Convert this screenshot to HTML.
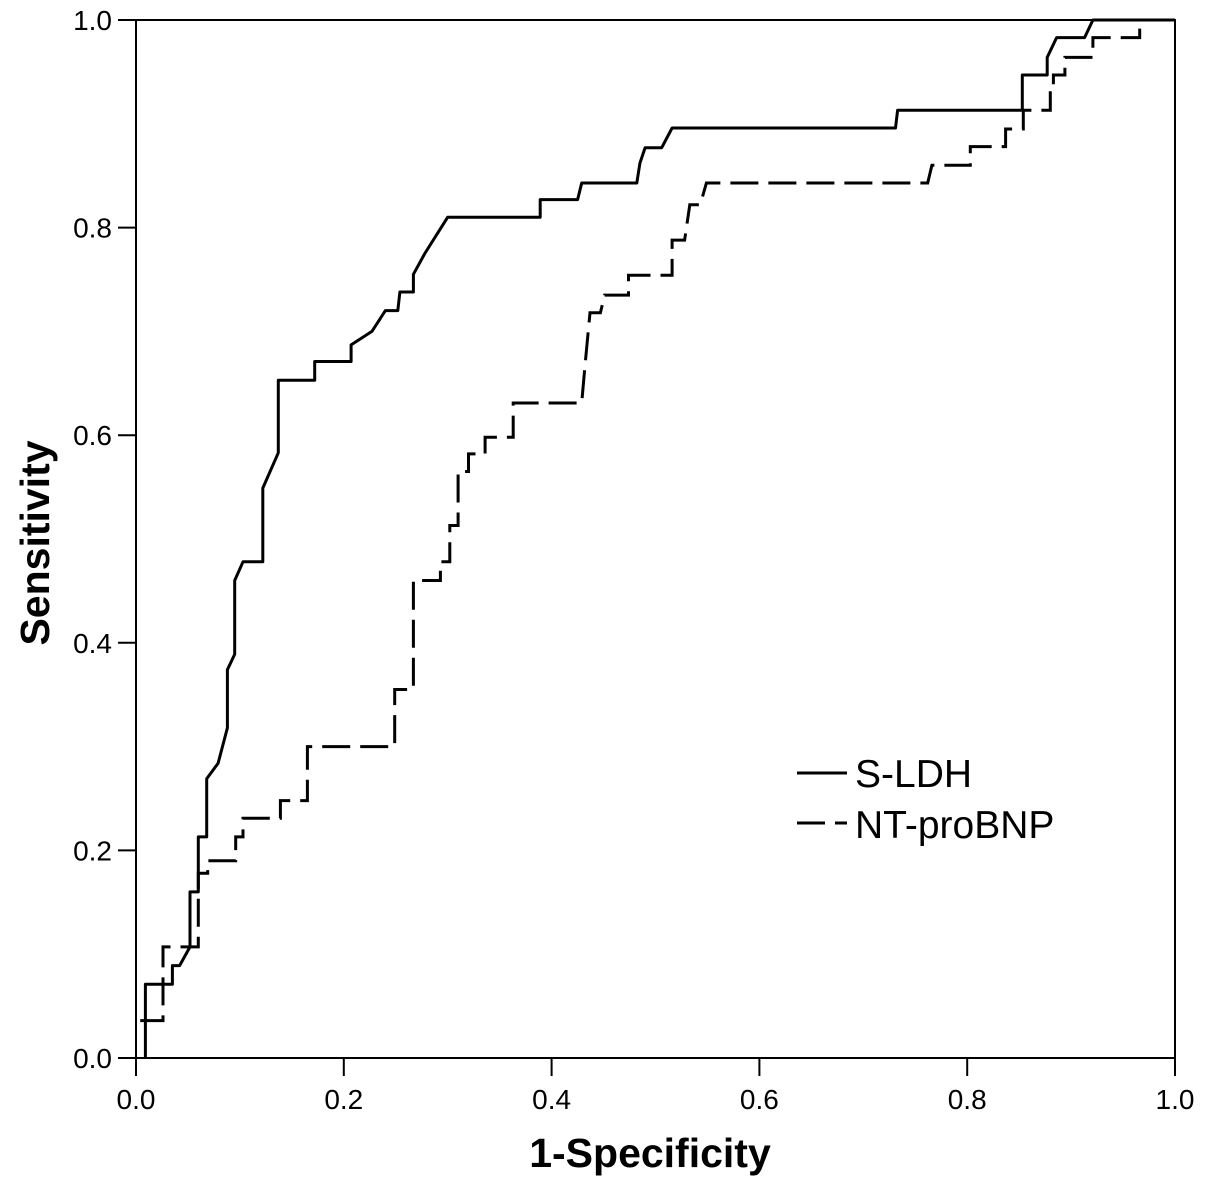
<!DOCTYPE html>
<html><head><meta charset="utf-8"><style>
body{margin:0;background:#fff;}
svg{display:block;font-family:"Liberation Sans",Arial,sans-serif;}
</style></head><body>
<svg id="chart" width="1205" height="1194"></svg>
<script>
const ticks=[0,0.2,0.4,0.6,0.8,1.0];
const tickLabels=["0.0","0.2","0.4","0.6","0.8","1.0"];
const ldhX=[0.009,0.009,0.035,0.035,0.042,0.052,0.052,0.060,0.060,0.068,0.068,0.079,0.088,0.088,0.095,0.095,0.103,0.122,0.122,0.137,0.137,0.172,0.172,0.207,0.207,0.227,0.240,0.252,0.254,0.267,0.267,0.278,0.300,0.389,0.389,0.425,0.429,0.482,0.485,0.490,0.506,0.516,0.731,0.733,0.853,0.853,0.877,0.877,0.886,0.913,0.921,1.0];
const ldhY=[0,0.071,0.071,0.089,0.089,0.107,0.16,0.16,0.213,0.213,0.269,0.284,0.318,0.374,0.389,0.46,0.478,0.478,0.549,0.583,0.653,0.653,0.671,0.671,0.687,0.70,0.72,0.72,0.738,0.738,0.755,0.775,0.81,0.81,0.827,0.827,0.843,0.843,0.862,0.877,0.877,0.896,0.896,0.913,0.913,0.947,0.947,0.964,0.983,0.983,1.0,1.0];
const bnpX=[0.004,0.026,0.026,0.060,0.060,0.069,0.069,0.096,0.096,0.103,0.103,0.139,0.139,0.165,0.165,0.249,0.249,0.267,0.267,0.293,0.293,0.302,0.302,0.310,0.310,0.320,0.320,0.336,0.336,0.363,0.363,0.429,0.432,0.437,0.447,0.451,0.474,0.474,0.516,0.516,0.528,0.533,0.543,0.549,0.762,0.766,0.803,0.803,0.837,0.837,0.854,0.854,0.880,0.880,0.883,0.883,0.894,0.894,0.921,0.921,0.966,0.966];
const bnpY=[0.036,0.036,0.107,0.107,0.178,0.178,0.19,0.19,0.213,0.213,0.231,0.231,0.248,0.248,0.30,0.30,0.355,0.355,0.46,0.46,0.478,0.478,0.513,0.513,0.565,0.565,0.582,0.582,0.598,0.598,0.631,0.631,0.665,0.718,0.718,0.735,0.735,0.754,0.754,0.788,0.788,0.822,0.822,0.843,0.843,0.86,0.86,0.878,0.878,0.895,0.895,0.913,0.913,0.930,0.930,0.947,0.947,0.964,0.964,0.983,0.983,1.0];
const X0=136,X1=1175,Y0=1058,Y1=20;
const sx=v=>X0+v*(X1-X0), sy=v=>Y0-v*(Y0-Y1);
const svg=document.getElementById('chart');const NS="http://www.w3.org/2000/svg";
function mk(t,a,txt){const e=document.createElementNS(NS,t);for(const k in a)e.setAttribute(k,a[k]);if(txt!==undefined)e.textContent=txt;svg.appendChild(e);return e;}
let f=mk('rect',{x:X0,y:Y1,width:X1-X0,height:Y0-Y1,fill:'none',stroke:'#000','stroke-width':2});


ticks.forEach((t,i)=>{
 let a=mk('line',{x1:X0-18,x2:X0,y1:sy(t),y2:sy(t),stroke:'#000','stroke-width':2});
 
 
 let b=mk('text',{x:X0-24,y:sy(t)+10,'text-anchor':'end','font-size':28,fill:'#000'},tickLabels[i]);
 
 
 let c=mk('line',{x1:sx(t),x2:sx(t),y1:Y0,y2:Y0+18,stroke:'#000','stroke-width':2});
 
 
 let d=mk('text',{x:sx(t),y:Y0+51,'text-anchor':'middle','font-size':28,fill:'#000'},tickLabels[i]);
 
 
});
function pts(xs,ys){return xs.map((v,i)=>sx(v).toFixed(1)+','+sy(ys[i]).toFixed(1)).join(' ');}
let l1=mk('polyline',{points:pts(ldhX,ldhY),fill:'none',stroke:'#000','stroke-width':3,'stroke-linejoin':'round'});


let l2=mk('polyline',{points:pts(bnpX,bnpY),fill:'none',stroke:'#000','stroke-width':3,'stroke-dasharray':'28 10'});


let xt=mk('text',{x:650,y:1167,'text-anchor':'middle','font-size':41,'font-weight':'bold'},'1-Specificity');


let yt=mk('text',{x:0,y:0,'text-anchor':'middle','font-size':41,'font-weight':'bold',transform:'translate(49,543) rotate(-90)'},'Sensitivity');


let g1=mk('line',{x1:797,x2:847,y1:773,y2:773,stroke:'#000','stroke-width':3});


let t1=mk('text',{x:855,y:787,'font-size':39},'S-LDH');


let g2=mk('line',{x1:797,x2:847,y1:823,y2:823,stroke:'#000','stroke-width':3,'stroke-dasharray':'28 10'});


let t2=mk('text',{x:855,y:838,'font-size':39},'NT-proBNP');


</script>
</body></html>
